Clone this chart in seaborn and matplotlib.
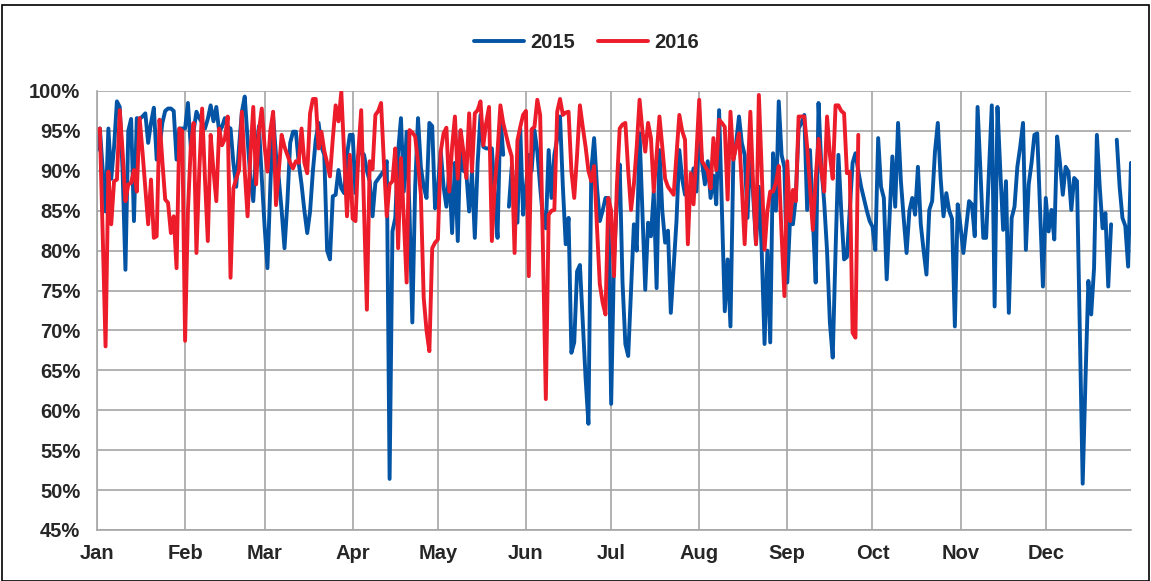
import numpy as np
import pandas as pd
import matplotlib
matplotlib.use('Agg')
import matplotlib.pyplot as plt
import seaborn as sns

# Daily values (%), one entry per day of year
nan = np.nan
y2015 = [
    # Jan
    92.6, 95.3, 90, 84.9, 95.3, 89, 93, 98.7, 98, 90, 77.6, 95, 96.5, 83.7, 96.6, 96.5,
    96.8, 97.2, 93.5, 96, 97.9, 91.4, 93, 96, 97.5, 97.8, 97.8, 97.5, 91.4, 95.3, 95.3,
    # Feb
    95.3, 98.5, 93, 95, 97.4, 96.6, 96, 95.3, 96.5, 98.2, 96.2, 98, 94.9, 95.5, 96.6,
    95.5, 95.3, 91, 88, 93, 97.4, 99.3, 94, 89, 86.2, 92.4, 95.6, 89.1,
    # Mar
    83, 77.8, 88, 96.8, 92, 89, 85, 80.3, 86, 93.5, 94.9, 94.9, 91, 88.3, 85, 82.2,
    84.9, 90, 93.9, 96, 93, 92, 80, 78.9, 86.8, 87, 90.1, 87.8, 87.2, 92, 94.5,
    # Apr
    94.5, 87.2, 92, 92.4, 92, 90, 88.7, 84.3, 88.5, 89, 89.5, 90, 91.2, 51.4, 82.4,
    84.1, 92.4, 96.6, 87.4, 94.9, 85, 71, 88, 96.6, 90.5, 88, 86.6, 96, 95.6, 85.3,
    # May
    88, 92.5, 88, 85.5, 90, 82.2, 91, 81.2, 95, 90, 89.8, 84.9, 89.8, 81.6, 91, 97,
    93, 92.8, 92.8, 92.8, 87, 81.6, 97, 92, nan, 85.5, 90.5, 87, 83.5, 95.3, 84.5,
    # Jun
    88, 92, 90, 95.1, 92.4, 88, 84, 82.8, 92.6, 86.6, 92, 94, 96.8, 88, 80.8, 84.1,
    67.2, 68.5, 77.4, 78.2, 71, 64, 58.3, 90, 94.1, 88, 83.7, 85, 86.6, 86.6,
    # Jul
    60.8, 79, 86, 90.8, 76, 68.3, 66.8, 75, 83.3, 80, 94.7, 85, 75.1, 83.5, 81.8, 87.4,
    75.3, 92.6, 85, 81, 82.5, 72.2, 78, 83.7, 92.6, 89, 87, 88, 87.8, 90.3, 87.4,
    # Aug
    95, 91, 88.3, 91.2, 86.6, 89.4, 85.8, 97.6, 85, 72.4, 78.9, 70.5, 91.2, 93.5, 96.8,
    93.5, 92, 84.1, 93, 87, 80.8, 88, 80, 68.3, 80, 68.5, 92.2, 85, 98.7, 92, 90.4,
    # Sep
    76, 84.1, 83.3, 86.6, 95.3, 96, 97, 85.1, 92.6, 84, 76, 98.5, 90.5, 86, 80, 71,
    66.6, 80, 92, 85, 78.9, 79.2, 85, 91, 92.2, 90, 88, 86.5, 85, 83.7,
    # Oct
    83, 80.1, 94.1, 88, 86.6, 76.4, 84, 91.8, 85.5, 96, 88.7, 84, 79.7, 85, 86.6, 84.5,
    90.5, 83.3, 80, 77, 85.1, 86.2, 92.4, 96, 89, 84.3, 87.2, 85, 84, 70.5, 85.8,
    # Nov
    83, 79.7, 83, 86.2, 85.8, 81.8, 98, 90, 81.6, 81.6, 90, 98.2, 73, 98, 90, 82.6,
    88.7, 72.2, 84.1, 85.5, 90.5, 93, 96, 80.1, 88.3, 91, 94.5, 94.7, 85, 75.5,
    # Dec
    86.6, 82.4, 85.1, 81.4, 94.3, 91, 87, 90.5, 89.9, 85.1, 89.1, 88.7, 70, 50.8, 64,
    76.2, 72, 77.8, 94.5, 88, 82.8, 84.7, 75.5, 83.3, nan, 93.9, 88, 84.1, 83.1, 78, 91,
]
y2016 = [
    # Jan
    95, 95.3, 82, 68, 89.9, 83.3, 88.7, 88.9, 97.6, 92.4, 86.2, 88.3, 88.5, 90.1, 87.4,
    96.6, 92.4, 87.8, 83.3, 88.9, 81.6, 81.8, 96.4, 91.2, 86.4, 86, 82.2, 84.3, 77.8,
    95.3, 95,
    # Feb
    68.7, 85, 93, 96, 79.7, 90, 97.8, 89, 81.2, 94.5, 90, 86.2, 95.3, 93.2, 94, 96.8,
    76.6, 87.8, 89, 90.1, 97.4, 90, 84.3, 92, 98, 88.3, 95, 97.8,
    # Mar
    93, 89.9, 95, 97.4, 85.7, 90, 94.5, 93, 92, 91, 90.3, 91.2, 91, 95.3, 91, 89.7,
    97.2, 99, 99, 92.8, 94.9, 92.5, 91, 89.3, 94, 98.2, 96.2, 99.9, 92, 84.3, 92,
    # Apr
    84, 83.7, 92.4, 97.6, 85, 72.6, 91.2, 90.2, 97, 97.5, 98.5, 91, 84.3, 88.3, 88.7,
    92.8, 80.3, 91.6, 84, 76, 95.1, 94.8, 94.3, 91, 87, 74.1, 70, 67.4, 80.3, 81,
    # May
    81.4, 92.4, 94.7, 95.4, 87.4, 93, 96.8, 89, 95.1, 92.4, 89.1, 97.2, 89.9, 97.2,
    97.6, 98.7, 93.2, 96, 98, 81.2, 88, 92.4, 98.2, 96, 94.5, 93, 91.8, 79.7, 93.8,
    95.5, 97,
    # Jun
    97.5, 76.8, 95.2, 95.5, 98.9, 97, 80, 61.4, 84.5, 85, 85.1, 97.4, 99, 97, 97.3,
    97.4, 90, 86.6, 92, 98.2, 95.5, 93, 90, 88.7, 90.6, 83, 75.8, 73.5, 72, 86.6,
    # Jul
    85, 76.8, 88, 95.3, 95.8, 96, 90, 85.1, 88.3, 93, 98.9, 95, 92.4, 96, 94.1, 87.4,
    92, 96.8, 93, 89, 88, 87.5, 87, 92, 97, 95, 93.9, 80.8, 89.7, 85.8, 92,
    # Aug
    98.9, 91.2, 90.6, 90, 87.8, 94.1, 90.1, 96.4, 96, 95.5, 86.4, 97.4, 91.4, 93,
    94.7, 88, 80.8, 89, 97.4, 88, 80.8, 99.5, 90, 80.1, 85, 87.4, 87.4, 88.5, 90.6,
    82, 74.3,
    # Sep
    91.2, 83.7, 87.6, 86.2, 96.8, 96.8, 96.8, 93, 88, 82.6, 89, 94, 90, 87.4, 96.8,
    92, 89, 98.2, 98.2, 97.5, 97.2, 89.7, 89.9, 69.7, 69.1, 94.5,
]

months = ['Jan', 'Feb', 'Mar', 'Apr', 'May', 'Jun',
          'Jul', 'Aug', 'Sep', 'Oct', 'Nov', 'Dec']
month_starts = [0, 31, 59, 90, 120, 151, 181, 212, 243, 273, 304, 334]
years = ['2015', '2016']
colors = {'2015': '#0354a4', '2016': '#ec1c2a'}

frames = []
for yr, vals in zip(years, [y2015, y2016]):
    d = pd.DataFrame({'day': np.arange(len(vals)), 'value': vals, 'year': yr})
    # split into segments so missing days leave a gap
    d['seg'] = yr + '_' + d['value'].isna().cumsum().astype(str)
    frames.append(d.dropna())
df = pd.concat(frames, ignore_index=True)

sns.set_style('white')
plt.rcParams['font.family'] = ['Liberation Sans', 'DejaVu Sans']

fig = plt.figure(figsize=(11.51, 5.81), dpi=100)
ax = fig.add_axes([0.0843, 0.0878, 0.8983, 0.7556])

sns.lineplot(data=df, x='day', y='value', hue='year', units='seg',
             estimator=None, palette=colors, linewidth=2.8, ax=ax,
             legend=False, sort=False)

ax.set_xlim(0, 364)
ax.set_ylim(45, 100)
ax.set_yticks(range(45, 101, 5))
ax.set_yticklabels([f'{v}%' for v in range(45, 101, 5)])
ax.set_xticks(month_starts)
ax.set_xticklabels(months)
ax.set_xlabel('')
ax.set_ylabel('')
ax.grid(True, color='#a6a6a6', linewidth=1.2)
ax.set_axisbelow(True)
for s in ['top', 'right']:
    ax.spines[s].set_visible(False)
for s in ['left', 'bottom']:
    ax.spines[s].set_color('#a6a6a6')
    ax.spines[s].set_linewidth(1.2)
ax.tick_params(length=0, labelsize=14.5)
ax.tick_params(axis='y', pad=12)
ax.tick_params(axis='x', pad=10)
for lab in ax.get_xticklabels() + ax.get_yticklabels():
    lab.set_fontweight('bold')

handles = [plt.Line2D([], [], color=colors[y], linewidth=2.8) for y in years]
fig.legend(handles, years, loc='center', bbox_to_anchor=(0.5096, 0.927),
           ncol=2, frameon=False, handlelength=2.5, columnspacing=1.15,
           handletextpad=0.3, prop={'weight': 'bold', 'size': 14.5})

# outer frame
fig.patches.append(plt.Rectangle((0.002, 0.0), 0.996, 0.992, transform=fig.transFigure,
                                 fill=False, edgecolor='black', linewidth=1.2))

fig.savefig('out.png', dpi=100)
